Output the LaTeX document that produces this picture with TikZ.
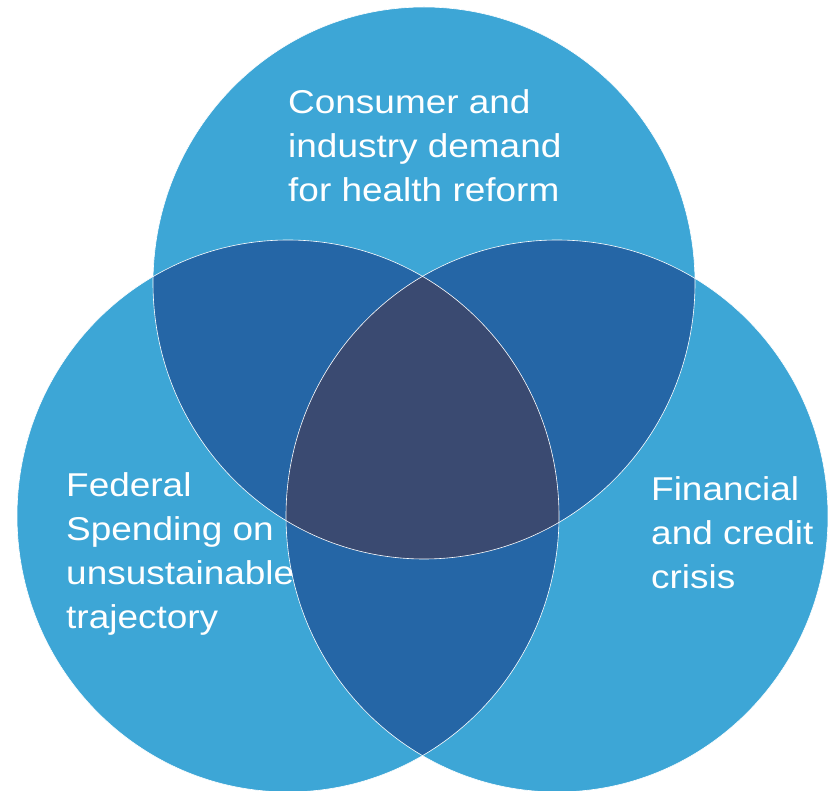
\documentclass[tikz,border=0pt]{standalone}
\usepackage{fontspec}
\setmainfont{Liberation Sans}
\newfontfamily\widesans[FakeStretch=1.12]{Liberation Sans}
\definecolor{lightblue}{HTML}{3DA6D6}
\definecolor{midblue}{HTML}{2566A6}
\definecolor{darkblue}{HTML}{3A4A71}

\begin{document}
\begin{tikzpicture}[x=1pt,y=-1pt,
    txt/.style={text=white, align=left, inner sep=0pt, font=\widesans\fontsize{33}{44}\selectfont},
    oval/.style={x radius=271pt, y radius=276pt},
    rim/.style={draw=white, line width=0.6pt}]
    \useasboundingbox (0,0) rectangle (828,791);
    % Centres of the three circles
    \coordinate (ctop) at (424,283);
    \coordinate (cleft) at (288,516);
    \coordinate (cright) at (557,516);

    % Circles
    \fill[lightblue] (ctop) ellipse [oval];
    \fill[lightblue] (cleft) ellipse [oval];
    \fill[lightblue] (cright) ellipse [oval];

    % Pairwise overlaps
    \begin{scope}
        \clip (ctop) ellipse [oval];
        \fill[midblue] (cleft) ellipse [oval];
        \fill[midblue] (cright) ellipse [oval];
    \end{scope}
    \begin{scope}
        \clip (cleft) ellipse [oval];
        \fill[midblue] (cright) ellipse [oval];
    \end{scope}

    % Centre overlap
    \begin{scope}
        \clip (ctop) ellipse [oval];
        \clip (cleft) ellipse [oval];
        \fill[darkblue] (cright) ellipse [oval];
    \end{scope}

    % Thin white rims
    \draw[rim] (ctop) ellipse [oval];
    \draw[rim] (cleft) ellipse [oval];
    \draw[rim] (cright) ellipse [oval];

    % Labels (anchored at the baseline of the last line)
    \node[txt, anchor=base west] (consumer) at (288,202) {Consumer and\\industry demand\\for health reform};
    \node[txt, anchor=base west] (federal) at (66,628) {Federal\\Spending on\\unsustainable\\trajectory};
    \node[txt, anchor=base west] (financial) at (651,588) {Financial\\and credit\\crisis};
\end{tikzpicture}
\end{document}
